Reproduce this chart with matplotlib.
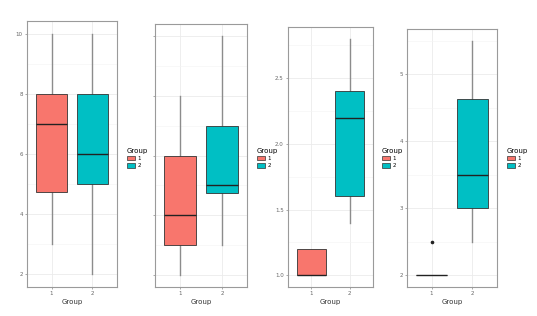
import matplotlib.pyplot as plt
from matplotlib.patches import Patch
from matplotlib.ticker import MultipleLocator

# five-number summaries per panel: [group1, group2]
p1_low = [3, 2]; p1_q1 = [4.75, 5]; p1_med = [7, 6]; p1_q3 = [8, 8]; p1_high = [10, 10]
p2_low = [2, 3]; p2_q1 = [3, 4.75]; p2_med = [4, 5]; p2_q3 = [6, 7]; p2_high = [8, 10]
p3_low = [1.0, 1.4]; p3_q1 = [1.0, 1.6]; p3_med = [1.0, 2.2]; p3_q3 = [1.2, 2.4]; p3_high = [1.2, 2.8]
p4_low = [2, 2.5]; p4_q1 = [2, 3]; p4_med = [2, 3.5]; p4_q3 = [2, 4.63]; p4_high = [2, 5.5]
p4_out = [[2.5], []]

groups = ["1", "2"]
colors = ["#F8766D", "#00BFC4"]

panels = [
    dict(stats=(p1_low, p1_q1, p1_med, p1_q3, p1_high), fliers=[[], []],
         ylim=(1.57, 10.43), major=2, minor=1, labels=True,
         rect=(27, 21, 117, 287), leg=127),
    dict(stats=(p2_low, p2_q1, p2_med, p2_q3, p2_high), fliers=[[], []],
         ylim=(1.6, 10.4), major=2, minor=1, labels=False,
         rect=(155, 24, 247, 287), leg=257),
    dict(stats=(p3_low, p3_q1, p3_med, p3_q3, p3_high), fliers=[[], []],
         ylim=(0.91, 2.89), major=0.5, minor=0.25, labels=True,
         rect=(288, 27, 373, 287), leg=382),
    dict(stats=(p4_low, p4_q1, p4_med, p4_q3, p4_high), fliers=p4_out,
         ylim=(1.825, 5.675), major=1, minor=0.5, labels=True,
         rect=(407, 29, 497, 287), leg=507),
]

W, H = 537, 316
fig = plt.figure(figsize=(W / 100, H / 100), dpi=100)
fig.patch.set_facecolor("white")

for p in panels:
    x0, y0, x1, y1 = p["rect"]
    ax = fig.add_axes([x0 / W, 1 - y1 / H, (x1 - x0) / W, (y1 - y0) / H])
    low, q1, med, q3, high = p["stats"]
    bstats = []
    for i in range(2):
        bstats.append(dict(whislo=low[i], q1=q1[i], med=med[i], q3=q3[i],
                           whishi=high[i], fliers=p["fliers"][i]))
    bp = ax.bxp(bstats, positions=[1, 2], widths=0.75, patch_artist=True,
                showcaps=False,
                boxprops=dict(edgecolor="#333333", linewidth=0.6),
                medianprops=dict(color="#222222", linewidth=1.0),
                whiskerprops=dict(color="#8c8c8c", linewidth=1.0),
                flierprops=dict(marker="o", markersize=1.6, markerfacecolor="#222222",
                                markeredgecolor="#222222"))
    for patch, c in zip(bp["boxes"], colors):
        patch.set_facecolor(c)
        patch.set_zorder(3)
    for m in bp["medians"]:
        m.set_zorder(4)
    ax.set_xlim(0.4, 2.6)
    ax.set_ylim(*p["ylim"])
    ax.yaxis.set_major_locator(MultipleLocator(p["major"]))
    ax.yaxis.set_minor_locator(MultipleLocator(p["minor"]))
    ax.set_xticks([1, 2])
    ax.set_xticklabels(groups)
    if not p["labels"]:
        ax.set_yticklabels([])
    ax.grid(True, which="major", color="#EBEBEB", linewidth=0.6)
    ax.grid(True, which="minor", axis="y", color="#F4F4F4", linewidth=0.4)
    ax.set_axisbelow(True)
    for s in ax.spines.values():
        s.set_color("#9a9a9a")
        s.set_linewidth(0.8)
    ax.tick_params(which="major", length=1.5, width=0.5, color="#888888",
                   labelsize=4, labelcolor="#666666", pad=1.5)
    ax.tick_params(which="minor", length=0)
    ax.set_xlabel("Group", fontsize=5, color="#333333", labelpad=2)

    handles = [Patch(facecolor=c, edgecolor="#333333", linewidth=0.5, label=g)
               for c, g in zip(colors, groups)]
    leg = fig.legend(handles=handles, title="Group", loc="center left",
                     bbox_to_anchor=(p["leg"] / W, 1 - 158 / H), frameon=False,
                     fontsize=4, title_fontsize=5, handlelength=1.4,
                     handleheight=0.9, handletextpad=0.5, labelspacing=0.4,
                     borderpad=0, borderaxespad=0)
    leg._legend_box.align = "left"

fig.savefig("out.png", dpi=100, facecolor="white")
